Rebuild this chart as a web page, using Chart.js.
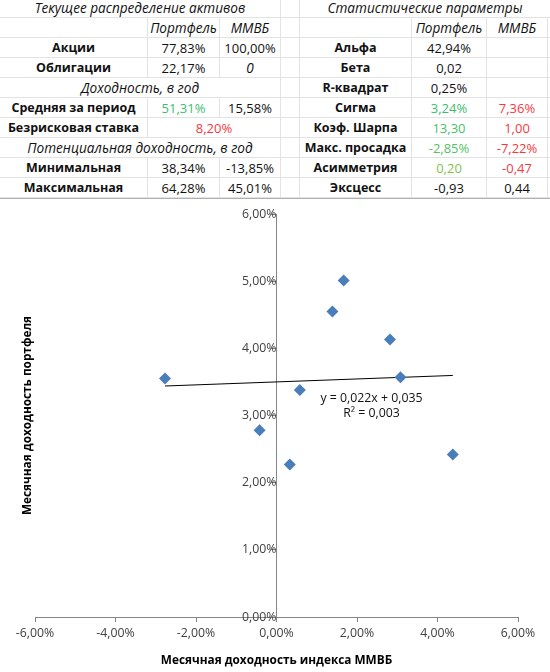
<!DOCTYPE html>
<html><head><meta charset="utf-8">
<script src="https://cdn.jsdelivr.net/npm/chart.js@4/dist/chart.umd.min.js"></script>
<style>
html,body{margin:0;padding:0;background:#fff;}
body{width:550px;height:672px;position:relative;overflow:hidden;font-family:"Open Sans",sans-serif;}
.c{position:absolute;box-sizing:border-box;height:20px;border-right:1px solid #e3e3e3;border-bottom:1px solid #e3e3e3;background:#fff;
display:flex;align-items:center;justify-content:center;font-size:13px;color:#111;white-space:nowrap;}
.b{font-weight:bold;font-size:12.5px;}
.i{font-style:italic;font-size:13.6px;}
#wrap{position:absolute;left:0;top:198px;width:550px;height:474px;border-top:1px solid #b0b0b0;box-sizing:border-box;}
</style></head>
<body>
<div id="tbl"></div>
<div id="wrap"><canvas id="ch" width="550" height="473"></canvas></div>
<script>
// ---- table data ----
const leftTitle = 'Текущее распределение активов';
const rightTitle = 'Статистические параметры';
const colHeaders = ['Портфель', 'ММВБ'];
const allocLabels = ['Акции', 'Облигации'];
const allocPortfolio = ['77,83%', '22,17%'];
const allocIndex = ['100,00%', '0'];
const yieldTitle = 'Доходность, в год';
const avgLabel = 'Средняя за период';
const avgValues = ['51,31%', '15,58%'];
const riskFreeLabel = 'Безрисковая ставка';
const riskFreeValue = '8,20%';
const potentialTitle = 'Потенциальная доходность, в год';
const potentialLabels = ['Минимальная', 'Максимальная'];
const potentialPortfolio = ['38,34%', '64,28%'];
const potentialIndex = ['-13,85%', '45,01%'];
const statLabels = ['Альфа', 'Бета', 'R-квадрат', 'Сигма', 'Коэф. Шарпа', 'Макс. просадка', 'Асимметрия', 'Эксцесс'];
const statPortfolio = ['42,94%', '0,02', '0,25%', '3,24%', '13,30', '-2,85%', '0,20', '-0,93'];
const statIndex = ['', '', '', '7,36%', '1,00', '-7,22%', '-0,47', '0,44'];
const statPortfolioColors = ['#111', '#111', '#111', '#3dbd6c', '#48c06a', '#55c168', '#7fc24c', '#111'];
const statIndexColors = ['#111', '#111', '#111', '#f7393d', '#f7393d', '#f7393d', '#f7393d', '#111'];

// ---- chart data (monthly returns, %) ----
const indexReturns = [-2.77, -0.42, 0.33, 0.58, 1.39, 1.67, 2.82, 3.08, 4.38];
const portfolioReturns = [3.55, 2.78, 2.27, 3.38, 4.55, 5.01, 4.13, 3.57, 2.42];
const trendSlope = 0.022;      // from "y = 0,022x + 0,035"
const trendIntercept = 0.035;
const trendLabel = ['y = 0,022x + 0,035', 'R² = 0,003'];
const xTicks = {min: -6, max: 6, step: 2};
const yTicks = {min: 0, max: 6, step: 1};
const xTitle = 'Месячная доходность индекса ММВБ';
const yTitle = 'Месячная доходность портфеля';

// ---- build table ----
const tbl = document.getElementById('tbl');
const X = {l0:0, l1:148, l2:220, l3:281, s:300, r1:412, r2:487, r3:548, end:550};
function cell(row, x0, x1, text, cls, color){
  const d = document.createElement('div');
  d.className = 'c ' + (cls||'');
  d.style.left = x0 + 'px'; d.style.top = (-2 + 20*row) + 'px'; d.style.width = (x1-x0) + 'px';
  if (color) d.style.color = color;
  d.textContent = text || '';
  tbl.appendChild(d);
}
for (let r = 0; r < 10; r++) { cell(r, X.l3, X.s, ''); cell(r, X.r3, X.end+1, ''); }
// left block
cell(0, X.l0, X.l3, leftTitle, 'i');
cell(1, X.l0, X.l1, ''); cell(1, X.l1, X.l2, colHeaders[0], 'i'); cell(1, X.l2, X.l3, colHeaders[1], 'i');
for (let k = 0; k < 2; k++) {
  cell(2+k, X.l0, X.l1, allocLabels[k], 'b');
  cell(2+k, X.l1, X.l2, allocPortfolio[k]);
  cell(2+k, X.l2, X.l3, allocIndex[k], allocIndex[k] === '0' ? 'i' : '');
}
cell(4, X.l0, X.l3, yieldTitle, 'i');
cell(5, X.l0, X.l1, avgLabel, 'b'); cell(5, X.l1, X.l2, avgValues[0], '', '#3dbd72'); cell(5, X.l2, X.l3, avgValues[1]);
cell(6, X.l0, X.l1, riskFreeLabel, 'b'); cell(6, X.l1, X.l3, riskFreeValue, '', '#f7393d');
cell(7, X.l0, X.l3, potentialTitle, 'i');
for (let k = 0; k < 2; k++) {
  cell(8+k, X.l0, X.l1, potentialLabels[k], 'b');
  cell(8+k, X.l1, X.l2, potentialPortfolio[k]);
  cell(8+k, X.l2, X.l3, potentialIndex[k]);
}
// right block
cell(0, X.s, X.end+1, rightTitle, 'i');
cell(1, X.s, X.r1, ''); cell(1, X.r1, X.r2, colHeaders[0], 'i'); cell(1, X.r2, X.r3, colHeaders[1], 'i');
for (let k = 0; k < statLabels.length; k++) {
  cell(2+k, X.s, X.r1, statLabels[k], 'b');
  cell(2+k, X.r1, X.r2, statPortfolio[k], '', statPortfolioColors[k]);
  cell(2+k, X.r2, X.r3, statIndex[k], '', statIndexColors[k]);
}

// ---- chart ----
const FONT = '"Open Sans", sans-serif';
const fmt = v => v.toFixed(2).replace('.', ',') + '%';
const points = indexReturns.map((x, i) => ({x, y: portfolioReturns[i]}));
const xmin = Math.min(...indexReturns), xmax = Math.max(...indexReturns);
const trend = [xmin, xmax].map(x => ({x, y: (trendSlope * x / 100 + trendIntercept) * 100}));

const eqPlugin = {
  id: 'eq',
  afterDatasetsDraw(chart) {
    const {ctx, scales: {x, y}} = chart;
    ctx.save();
    ctx.font = '12.3px ' + FONT;
    ctx.fillStyle = '#111';
    ctx.textAlign = 'center';
    ctx.textBaseline = 'middle';
    const px = x.getPixelForValue(2.36);
    ctx.fillText(trendLabel[0], px, y.getPixelForValue(3.25));
    ctx.fillText(trendLabel[1], px, y.getPixelForValue(3.03));
    ctx.restore();
  }
};

new Chart(document.getElementById('ch'), {
  type: 'scatter',
  data: {
    datasets: [
      {data: points, pointStyle: 'rectRot', pointRadius: 6, pointHoverRadius: 6,
       backgroundColor: '#4a7ebb', borderColor: '#4a7ebb', borderWidth: 0},
      {data: trend, showLine: true, borderColor: '#000', borderWidth: 1, pointRadius: 0, fill: false}
    ]
  },
  options: {
    responsive: false, animation: false, devicePixelRatio: 1,
    layout: {padding: {left: 0, right: 32, top: 15, bottom: 0}},
    plugins: {legend: {display: false}, tooltip: {enabled: false}},
    scales: {
      x: {
        type: 'linear', position: 'bottom', min: xTicks.min, max: xTicks.max,
        ticks: {stepSize: xTicks.step, callback: fmt, color: '#404040', font: {family: FONT, size: 12.3}, padding: 4, maxRotation: 0, autoSkip: false},
        grid: {display: true, drawOnChartArea: false, drawTicks: true, tickLength: 5, color: '#868686'},
        border: {display: true, color: '#868686', width: 1},
        title: {display: true, text: xTitle, color: '#000', font: {family: FONT, size: 11.8, weight: 'bold'}, padding: {top: 0, bottom: 4}},
        afterFit(s) { s.height = 55; }
      },
      y: {
        type: 'linear', position: {x: 0}, min: yTicks.min, max: yTicks.max,
        ticks: {stepSize: yTicks.step, callback: fmt, color: '#404040', font: {family: FONT, size: 12.3}, padding: 4},
        grid: {display: true, drawOnChartArea: false, drawTicks: true, tickLength: 5, color: '#868686'},
        border: {display: true, color: '#868686', width: 1}
      },
      y2: {
        type: 'linear', position: 'left', display: true,
        ticks: {display: false}, grid: {display: false, drawTicks: false}, border: {display: false},
        title: {display: true, text: yTitle, color: '#000', font: {family: FONT, size: 11.8, weight: 'bold'}, padding: {top: 21, bottom: 0}},
        afterFit(s) { s.width = 35; }
      }
    }
  },
  plugins: [eqPlugin]
});
</script>
</body></html>
